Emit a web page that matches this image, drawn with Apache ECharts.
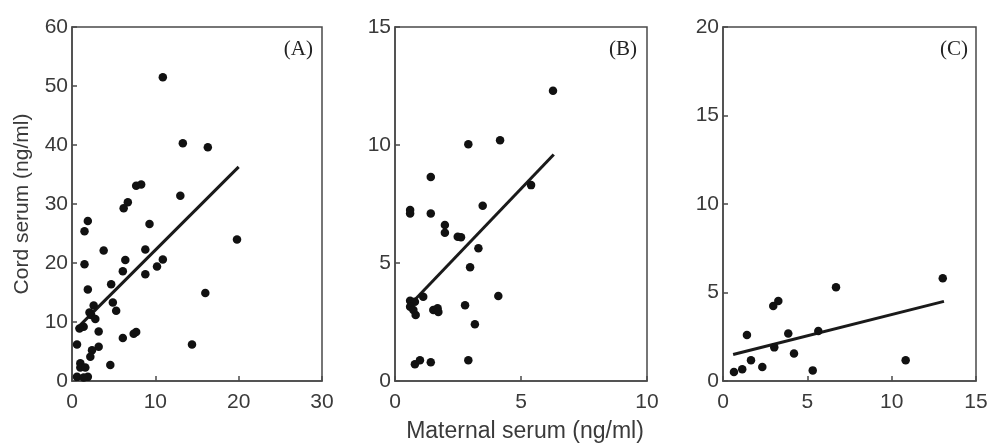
<!DOCTYPE html>
<html>
<head>
<meta charset="utf-8">
<script src="https://cdn.jsdelivr.net/npm/echarts@6/dist/echarts.min.js"></script>
<style>
  html, body { margin: 0; padding: 0; background: #fff; }
  #chart { width: 991px; height: 446px; }
</style>
</head>
<body>
<div id="chart"></div>
<script>
// 数据：脐带血清 vs 母体血清
var pointsA = [
  [10.9, 51.5], [13.3, 40.3], [16.3, 39.6], [7.7, 33.1], [8.3, 33.3], [13.0, 31.4],
  [6.7, 30.3], [6.2, 29.3], [1.9, 27.1], [1.5, 25.4], [9.3, 26.6], [19.8, 24.0],
  [3.8, 22.1], [8.8, 22.3], [1.5, 19.8], [6.4, 20.5], [10.9, 20.6], [6.1, 18.6],
  [10.2, 19.4], [8.8, 18.1], [4.7, 16.4], [1.9, 15.5], [16.0, 14.9], [2.6, 12.8],
  [4.9, 13.3], [5.3, 11.9], [2.1, 11.6], [2.3, 11.2], [2.8, 10.5], [1.4, 9.2],
  [0.9, 8.9], [3.2, 8.4], [7.7, 8.3], [7.4, 8.0], [6.1, 7.3], [0.6, 6.2],
  [14.4, 6.2], [3.2, 5.8], [2.4, 5.2], [2.2, 4.1], [4.6, 2.7], [1.0, 3.0],
  [1.0, 2.3], [1.6, 2.3], [0.6, 0.7], [1.9, 0.7], [1.4, 0.6]
];
var pointsB = [
  [6.27, 12.3], [2.91, 10.03], [4.17, 10.2], [1.42, 8.64], [5.4, 8.3], [3.48, 7.43],
  [0.6, 7.25], [0.6, 7.1], [1.42, 7.1], [1.98, 6.61], [1.98, 6.28], [2.49, 6.11],
  [2.62, 6.09], [3.31, 5.62], [2.98, 4.82], [4.1, 3.6], [1.12, 3.57], [0.6, 3.4],
  [0.79, 3.36], [0.6, 3.15], [0.73, 3.01], [0.82, 2.8], [1.52, 3.01], [1.69, 3.08],
  [1.72, 2.92], [2.78, 3.21], [3.17, 2.4], [0.79, 0.71], [0.99, 0.88], [1.42, 0.79],
  [2.91, 0.88]
];
var pointsC = [
  [13.03, 5.8], [6.7, 5.29], [3.28, 4.52], [2.98, 4.24], [1.42, 2.6], [3.87, 2.69],
  [5.65, 2.82], [3.04, 1.9], [4.21, 1.56], [1.66, 1.17], [10.83, 1.17], [2.33, 0.79],
  [1.14, 0.66], [0.65, 0.51], [5.32, 0.6]
];
var lineA = [[0.5, 8.8], [20, 36.3]];
var lineB = [[0.75, 3.4], [6.3, 9.6]];
var lineC = [[0.6, 1.5], [13.1, 4.5]];

var xMax = [30, 10, 15];
var xStep = [10, 5, 5];
var yMax = [60, 15, 20];
var yStep = [10, 5, 5];
var panelTags = ['(A)', '(B)', '(C)'];

var myChart = echarts.init(document.getElementById('chart'));

var gridBoxes = [
  { left: 72, top: 27, width: 250, height: 354, tagRight: 9 },
  { left: 395, top: 27, width: 252, height: 354, tagRight: 10 },
  { left: 723, top: 27, width: 253, height: 354, tagRight: 8 }
];

var axisColor = '#4a4a4a';
var sansFont = 'Liberation Sans, Arial, sans-serif';
var labelStyle = { color: '#3a3a3a', fontFamily: sansFont, fontSize: 21 };

var grids = [], xAxes = [], yAxes = [], series = [], graphics = [];
var allPoints = [pointsA, pointsB, pointsC];
var allLines = [lineA, lineB, lineC];

for (var i = 0; i < 3; i++) {
  var g = gridBoxes[i];
  grids.push({
    left: g.left, top: g.top, width: g.width, height: g.height,
    show: true, borderColor: axisColor, borderWidth: 1.5, backgroundColor: 'transparent'
  });
  xAxes.push({
    type: 'value', gridIndex: i, min: 0, max: xMax[i], interval: xStep[i],
    axisLine: { show: true, lineStyle: { color: axisColor, width: 1.5 } },
    axisTick: { show: true, inside: true, length: 5, lineStyle: { color: axisColor, width: 1.5 } },
    axisLabel: Object.assign({ margin: 11 }, labelStyle),
    splitLine: { show: false }
  });
  yAxes.push({
    type: 'value', gridIndex: i, min: 0, max: yMax[i], interval: yStep[i],
    axisLine: { show: true, lineStyle: { color: axisColor, width: 1.5 } },
    axisTick: { show: true, inside: true, length: 5, lineStyle: { color: axisColor, width: 1.5 } },
    axisLabel: Object.assign({ margin: 4 }, labelStyle),
    splitLine: { show: false },
    name: i === 0 ? 'Cord serum (ng/ml)' : '',
    nameLocation: 'middle',
    nameGap: 39,
    nameTextStyle: { color: '#3a3a3a', fontFamily: sansFont, fontSize: 21 }
  });
  series.push({
    type: 'scatter', xAxisIndex: i, yAxisIndex: i,
    data: allPoints[i], symbolSize: 8.5,
    itemStyle: { color: '#111', opacity: 1 },
    z: 3
  });
  series.push({
    type: 'line', xAxisIndex: i, yAxisIndex: i,
    data: allLines[i], symbol: 'none',
    lineStyle: { color: '#1a1a1a', width: 3 },
    z: 2
  });
  graphics.push({
    type: 'text',
    x: g.left + g.width - g.tagRight, y: 49,
    style: {
      text: panelTags[i], fill: '#222', align: 'right', verticalAlign: 'middle',
      font: '21px "Liberation Serif", "Times New Roman", serif'
    }
  });
}

graphics.push({
  type: 'text', x: 525, y: 432,
  style: {
    text: 'Maternal serum (ng/ml)', fill: '#3a3a3a', align: 'center', verticalAlign: 'middle',
    font: '23px "Liberation Sans", Arial, sans-serif'
  }
});

const option = {
  animation: false,
  backgroundColor: '#fff',
  grid: grids,
  xAxis: xAxes,
  yAxis: yAxes,
  series: series,
  graphic: graphics
};

myChart.setOption(option);
window.addEventListener('resize', function () {
  myChart.resize();
});
</script>
</body>
</html>
